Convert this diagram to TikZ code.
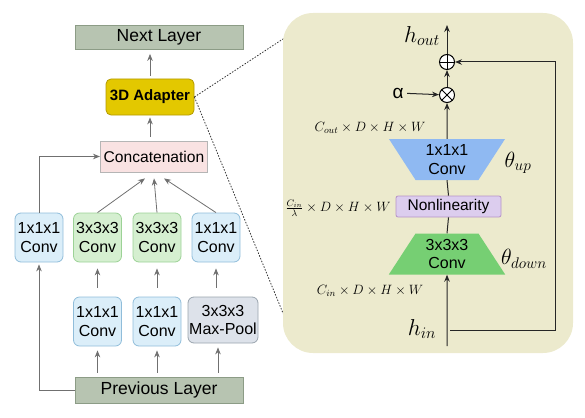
\RequirePackage{fix-cm}
\documentclass[tikz,border=0pt]{standalone}
\usepackage[no-math]{fontspec}
\setmainfont{Liberation Sans}
\usetikzlibrary{shapes.geometric, arrows.meta, calc, positioning}

\definecolor{layerfill}{HTML}{B7C4B1}
\definecolor{layerdraw}{HTML}{8C9C86}
\definecolor{adapterfill}{HTML}{E3C800}
\definecolor{adapterdraw}{HTML}{B39A00}
\definecolor{concatfill}{HTML}{F9E2E2}
\definecolor{concatdraw}{HTML}{B5B5B5}
\definecolor{bluefill}{HTML}{DBEEF9}
\definecolor{bluedraw}{HTML}{90BDDA}
\definecolor{greenfill}{HTML}{D5EFD0}
\definecolor{greendraw}{HTML}{9CD296}
\definecolor{poolfill}{HTML}{DDE2EA}
\definecolor{pooldraw}{HTML}{9AA4AE}
\definecolor{panelfill}{HTML}{ECEACD}
\definecolor{upfill}{HTML}{8FB9F2}
\definecolor{downfill}{HTML}{76CF73}
\definecolor{nonlinfill}{HTML}{DCCDEE}
\definecolor{nonlindraw}{HTML}{B794C8}
\definecolor{arrowgray}{HTML}{707070}

\newcommand{\sizept}[1]{\fontsize{#1}{1.15\dimexpr#1pt\relax}\selectfont}

\begin{document}
\begin{tikzpicture}[
    x=1pt, y=-1pt,
    >={Stealth[length=7pt, width=5.5pt]},
    layer/.style={draw=layerdraw, fill=layerfill, line width=0.8pt, minimum width=168pt, minimum height=24pt, font=\sizept{17.5}},
    adapterbox/.style={draw=adapterdraw, fill=adapterfill, line width=0.8pt, rounded corners=5pt, minimum width=88pt, minimum height=36pt, font=\sizept{15}\bfseries},
    concatbox/.style={draw=concatdraw, fill=concatfill, line width=0.8pt, minimum width=106pt, minimum height=31pt, font=\sizept{15.6}},
    convbox/.style={draw, line width=0.8pt, rounded corners=6pt, minimum width=48pt, minimum height=49pt, inner sep=1pt, align=center, font=\sizept{16}},
    blueconv/.style={draw=bluedraw, fill=bluefill},
    greenconv/.style={draw=greendraw, fill=greenfill},
    poolbox/.style={draw=pooldraw, fill=poolfill},
    garrow/.style={->, draw=arrowgray, line width=0.8pt},
    zoomline/.style={draw=black!80, line width=0.8pt, dash pattern=on 1.5pt off 1.5pt},
    panel/.style={fill=panelfill, rounded corners=30pt, minimum width=290pt, minimum height=340pt},
    trapbox/.style={trapezium, trapezium stretches=true, trapezium angle=58.6, minimum width=117pt, minimum height=41pt, align=center, font=\sizept{16}, inner sep=0pt},
    nonlinbox/.style={draw=nonlindraw, fill=nonlinfill, line width=0.8pt, rounded corners=2pt, minimum width=105pt, minimum height=21pt, font=\sizept{15.5}, inner sep=0pt},
    opnode/.style={circle, draw=black, fill=white, line width=1pt, minimum size=15pt, inner sep=0pt},
    sumnode/.style={opnode, path picture={\draw[line width=0.9pt] (path picture bounding box.north) -- (path picture bounding box.south) (path picture bounding box.west) -- (path picture bounding box.east);}},
    prodnode/.style={opnode, path picture={\draw[line width=0.9pt] (path picture bounding box.north west) -- (path picture bounding box.south east) (path picture bounding box.north east) -- (path picture bounding box.south west);}},
    barrow/.style={->, draw=black!85, line width=1pt},
    dimlabel/.style={font=\sizept{13.5}}
]
\useasboundingbox (0,0) rectangle (585,417);

% ----------------------------------------------------
% Inception block (left)
% ----------------------------------------------------
\node[layer] (next) at (159,37.5) {Next Layer};
\node[adapterbox] (adapter) at (150,97) {3D Adapter};
\node[concatbox] (concat) at (154,156.5) {Concatenation};

\node[convbox, blueconv] (c1) at (39,237.5) {1x1x1\\Conv};
\node[convbox, greenconv] (c2) at (97.5,237.5) {3x3x3\\Conv};
\node[convbox, greenconv] (c3) at (157,237.5) {3x3x3\\Conv};
\node[convbox, blueconv] (c4) at (216,237.5) {1x1x1\\Conv};

\node[convbox, blueconv] (r2) at (97.5,321.5) {1x1x1\\Conv};
\node[convbox, blueconv] (r3) at (157,321.5) {1x1x1\\Conv};
\node[convbox, poolbox, minimum width=70pt, minimum height=46pt] (pool) at (223,320) {3x3x3\\Max-Pool};

\node[layer, minimum height=26pt] (prev) at (159,390) {Previous Layer};

% upward arrows
\draw[garrow, shorten <=3pt, shorten >=4pt] (adapter.north) -- (adapter.north |- next.south);
\draw[garrow, shorten <=4pt, shorten >=2pt] (adapter.south |- concat.north) -- (adapter.south);
\draw[garrow] (c1.north) |- (concat.west);
\draw[garrow] (c2.north) -- ([xshift=-9pt, yshift=-6pt]concat.south);
\draw[garrow] (c3.north) -- ([yshift=-6pt]concat.south);
\draw[garrow] (c4.north) -- ([xshift=10pt, yshift=-6pt]concat.south);

\foreach \a/\b in {r2/c2, r3/c3}
    \draw[garrow, shorten <=9pt, shorten >=6pt] (\a.north) -- (\b.south);
\draw[garrow, shorten <=9pt, shorten >=6pt] (c4.south |- pool.north) -- (c4.south);

\foreach \a in {r2, r3}
    \draw[garrow, shorten <=4pt, shorten >=4pt] (\a.south |- prev.north) -- (\a.south);
\draw[garrow, shorten <=4pt, shorten >=4pt] ([xshift=-5pt]pool.south |- prev.north) -- ([xshift=-5pt]pool.south);
\draw[garrow, shorten >=2pt] (prev.west) -| (c1.south);

% zoom lines
\draw[zoomline] (adapter.east) -- (312,20);
\draw[zoomline] (adapter.east) -- (294,340);

% ----------------------------------------------------
% Adapter detail (right)
% ----------------------------------------------------
\node[panel] (panel) at (428,183) {};

\node[sumnode] (sum) at (447,62) {};
\node[prodnode] (prod) at (447,95) {};
\coordinate (outtip) at (447,25);
\node[font=\sizept{23}] (hout) at (422,36) {$h_{out}$};
\node[font=\sizept{19}] (alpha) at (398,93) {α};

\node[trapbox, fill=upfill, shape border rotate=180] (convup) at (447,159.5) {1x1x1\\Conv};
\node[font=\sizept{22}] (thetaup) at (518,163) {$\theta_{up}$};
\node[dimlabel] (doutdim) at (370,128) {$C_{out}\times D\times H\times W$};

\node[nonlinbox] (nonlin) at (448.5,206.5) {Nonlinearity};
\node[dimlabel] (dmid) at (338,208) {$\frac{C_{in}}{\lambda}\times D\times H\times W$};

\node[trapbox, fill=downfill] (convdown) at (447,254) {3x3x3\\Conv};
\node[font=\sizept{22}] (thetadown) at (524,259) {$\theta_{down}$};
\node[dimlabel] (dindim) at (370,291) {$C_{in}\times D\times H\times W$};

\node[font=\sizept{23}] (hin) at (422,329) {$h_{in}$};
\coordinate (inbot) at (447,346);
\coordinate (branch) at (450,330);
\coordinate (rturn) at (555,330);

\draw[barrow] (sum.north) -- (outtip);
\draw[barrow] (prod) -- (sum);
\draw[barrow] (alpha) -- (prod);
\draw[barrow] (convup.north) -- (prod.south);
\draw[draw=black!85, line width=1pt] (convup.south) -- (nonlin.north);
\draw[draw=black!85, line width=1pt] (nonlin.south) -- (convdown.north);
\draw[barrow] (inbot) -- (convdown.south);
\draw[barrow] (branch) -- (rturn) |- (sum.east);

\end{tikzpicture}
\end{document}
